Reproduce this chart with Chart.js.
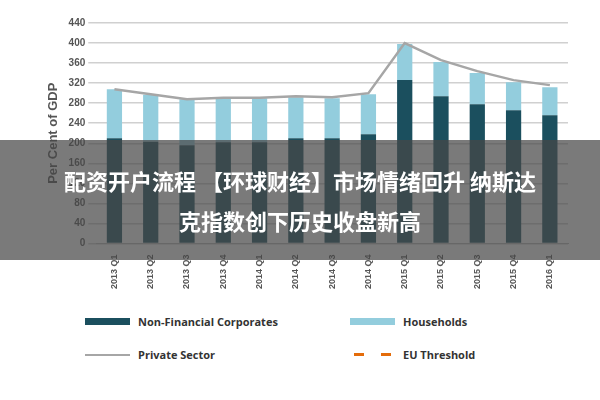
<!DOCTYPE html>
<html><head><meta charset="utf-8">
<script src="https://cdn.jsdelivr.net/npm/chart.js@4"></script>
<style>
body{margin:0;width:600px;height:400px;background:#fff;position:relative;overflow:hidden;font-family:"Open Sans",sans-serif}
#wrap{position:absolute;left:0;top:0;width:600px;height:292px}
#banner{position:absolute;left:0;top:140px;width:600px;height:120px;background:rgba(70,70,70,0.72);color:#fff;font-family:"Noto Sans CJK SC";font-weight:bold;font-size:22px;text-align:center;line-height:40px;padding-top:20px;box-sizing:border-box}
.lg{position:absolute;font-size:11px;font-weight:bold;color:#333;display:flex;align-items:center}
.sw{display:inline-block;margin-right:8px}
</style></head><body>
<div id="wrap"><canvas id="c"></canvas></div>
<div class="lg" style="left:85px;top:314px"><span class="sw" style="width:45px;height:7px;background:#1b4f5e"></span>Non-Financial Corporates</div>
<div class="lg" style="left:350px;top:314px"><span class="sw" style="width:45px;height:7px;background:#93cddd"></span>Households</div>
<div class="lg" style="left:85px;top:347px"><span class="sw" style="width:45px;height:2px;background:#a6a6a6"></span>Private Sector</div>
<div class="lg" style="left:350px;top:347px"><span class="sw" style="width:45px;height:3px;background:linear-gradient(90deg,transparent 0 4px,#e46c0a 4px 14px,transparent 14px 31px,#e46c0a 31px 41px,transparent 41px)"></span>EU Threshold</div>
<div id="banner">配资开户流程 【环球财经】市场情绪回升 纳斯达<br>克指数创下历史收盘新高</div>
<script>
const categories=["2013 Q1","2013 Q2","2013 Q3","2013 Q4","2014 Q1","2014 Q2","2014 Q3","2014 Q4","2015 Q1","2015 Q2","2015 Q3","2015 Q4","2016 Q1"];
const nonFinancial=[210,203,196,202,202,210,210,218,326,294,278,266,256];
const households=[98,94,92,88,88,82,80,80,72,68,62,56,56];
const privateSector=[308,298,288,291,291,294,292,300,400,366,344,326,316];
const euThreshold=[160,160,160,160,160,160,160,160,160,160,160,160,160];
new Chart(document.getElementById('c'),{
 data:{labels:categories,datasets:[
  {type:'line',data:privateSector,borderColor:'#a6a6a6',borderWidth:2.5,pointRadius:0,order:0},
  {type:'line',data:euThreshold,showLine:false,pointStyle:'line',pointRadius:10,pointBorderWidth:3,borderColor:'#e46c0a',order:0},
  {type:'bar',data:nonFinancial,backgroundColor:'#1b4f5e',stack:'s',barPercentage:0.42,categoryPercentage:1,order:1},
  {type:'bar',data:households,backgroundColor:'#93cddd',stack:'s',barPercentage:0.42,categoryPercentage:1,order:1}
 ]},
 options:{responsive:true,maintainAspectRatio:false,animation:false,
  layout:{padding:{left:42,right:32,top:23}},
  plugins:{legend:{display:false},tooltip:{enabled:false}},
  scales:{
   x:{stacked:true,grid:{display:false},border:{color:'#bbb'},ticks:{minRotation:90,maxRotation:90,color:'#555',font:{size:9,weight:'bold'}}},
   y:{stacked:true,min:0,max:440,ticks:{stepSize:40,color:'#555',font:{size:10,weight:'bold'}},grid:{color:'#d0d0d0',lineWidth:1.5},border:{display:false},
      title:{display:true,text:'Per Cent of GDP',color:'#555',font:{size:13,weight:'bold'}}}
  }}
});
</script></body></html>
